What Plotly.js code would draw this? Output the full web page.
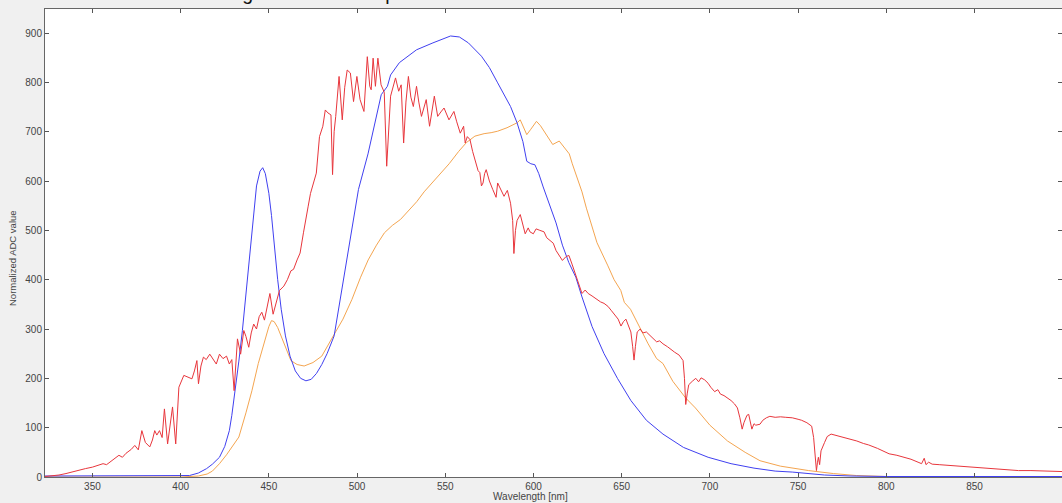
<!DOCTYPE html>
<html>
<head>
<meta charset="utf-8">
<script src="https://cdn.plot.ly/plotly-3.0.1.min.js"></script>
<style>
html,body{margin:0;padding:0;background:#f0f0f0;}
#chart{width:1062px;height:503px;}
</style>
</head>
<body>
<div id="chart"></div>
<script>
// ---- data (wavelength in nm, normalized ADC value) ----
const redWl = [323,327,331,335,338,342,346,350,353,356,358,361,363,365,367,369,372,374,376,378,380,382.5,384,385.3,386.5,388,389.5,390.8,392.6,394,395.4,397.2,399,401.8,404,406.4,407.8,409.2,410.1,411.5,412.9,414.5,416.5,418,420.2,422,424,426,427.6,429,430.3,432.2,434,435.8,437,438.6,440,441.4,443,444.5,446,447.5,449,450.6,452.4,454,456,458.5,460.5,462.5,464,466,467.7,469.6,471,472.3,473.6,475.1,476.9,478.7,480.6,482,483.5,485.2,486.1,487,487.9,489.8,491.6,493,494.4,496.2,498,499.9,501.7,503.9,505.8,507.2,508,509.1,510.4,511.8,513.6,515.4,516.8,519,521.8,523.6,525,526.4,527.7,529.1,530.5,531.9,533.7,535,536.5,539.2,541.1,543.8,545.7,547.5,549.3,552.1,554.9,556.5,558.5,560.4,561.3,562.5,564,565.5,566.8,568.6,569.6,570.5,571.4,572.3,573.2,575,576.9,578.8,579.7,581.5,583.3,585.2,587,588.2,588.9,589.8,590.7,592.5,593.5,595.3,597,598,599.9,601.5,603.6,606,607.5,609.1,611.2,612.8,614.5,616.4,618.5,620.1,622,623.8,625.5,627.5,629.3,631,633.2,636,638,640,642.2,644,646,648,649.6,651,652.4,654,655.2,656.2,657,657.8,658.8,660.5,662,664,666,668,669.8,671.5,673.4,676,678,680,682.6,684.8,685.6,686.3,687.2,688,690,692,693.6,695,697,699,700.5,702.7,704.5,706,708,710,712,714,715.6,717,718.3,719.3,720,721,722,723,723.8,725,726,728.4,730,732,734,737,740,743,746.7,750,752,755,757.7,758.8,759.5,760.4,761,761.5,762.2,763,765,766.5,768.7,772,775,779,783.3,787,790,795,801.6,806,810,814,818,820,821.5,822.5,824,826,830,834,838,843,849,855,860,866,875,882,890,900];
const redVal = [1,2,4,7,10,13,17,20,24,27,25,33,38,44,40,48,56,64,55,94,70,61,75,94,85,94,80,138,67,100,142,67,182,206,202,199,215,236,189,225,243,238,249,240,229,249,240,245,229,238,175,280,249,297,285,263,292,310,300,325,334,318,345,372,330,350,378,387,400,418,421,440,454,495,520,549,575,596,616,690,711,744,738,734,613,700,731,812,724,790,825,819,761,812,765,741,852,792,785,849,792,849,795,780,630,772,809,782,795,677,760,812,770,751,792,760,731,765,711,772,731,740,748,724,741,720,697,711,677,690,684,660,643,621,617,590,596,615,623,600,583,567,596,584,569,581,555,520,453,500,520,532,517,493,505,497,493,503,500,497,485,480,474,459,450,439,447,449,430,412,395,372,379,372,367,360,355,352,346,338,330,320,306,315,320,305,294,265,237,265,294,300,292,294,287,280,274,276,270,264,258,253,247,236,200,147,170,187,194,200,193,201,197,190,182,173,177,168,165,160,155,148,140,120,97,110,115,125,127,110,97,108,105,107,115,120,123,121,122,121,120,117,115,110,103,80,45,13,30,40,25,53,70,82,87,84,82,77,73,68,65,58,47,44,40,36,30,27,38,25,30,26,25,24,23,22,20,19,18,16,13,13,12,11];

const blueWl = [323,350,380,400,405,410,414.7,418,422,425,427.6,429,431,433,435,437,438.6,440,441.5,443,445,446.5,448,450,451.5,453,455,457,459.4,462,465,468,471,474,477,480,483,487,491,495.3,500.8,506.2,513.7,517.2,519,524,528.3,533.7,543,553,558,563.1,570.5,575,579.7,583.5,587,590.7,594,596.2,598.5,600.8,603,605.5,609,612.8,616.4,620,624,627.5,633.2,640,647.6,655.2,664,673.4,685,699,712,725,737,746.7,765,780,800,850,900];
const blueVal = [2,2,2,2,3,8,17,26,40,62,94,125,175,235,297,370,431,490,545,590,620,627,615,575,530,470,400,340,286,245,215,200,195,198,210,228,250,286,370,468,583,655,775,792,815,840,852,866,880,894,892,880,853,830,799,775,751,718,680,640,635,633,615,588,555,515,470,435,405,365,305,250,200,155,115,87,60,40,27,18,12,10,4,2,1,1,1];

const orangeWl = [323,400,410,415,418,422,426,430,433,437,440.4,444,447.8,450,451.5,453,455,457,460,462.5,466,470,475,480,487,492,497.1,502,506.3,511,515.5,520,524.6,529,533.8,538,542.9,547,552.2,557.6,562,566.8,572,576,579.7,585,590.7,592.5,594.3,596.2,598.5,601.7,604,607,610.9,614.6,617,620.3,622,625.6,627.5,630,633,636,642.2,645.7,649.5,651.5,655,660.7,665,669.8,673.4,679,686.3,691.8,700,710,720,728.4,740,756,770,783,800,850,900];
const orangeVal = [0,0,2,6,12,27,45,65,81,130,175,230,276,305,317,315,303,285,260,236,228,225,232,245,289,320,360,405,440,470,495,510,522,540,558,578,598,616,635,660,678,691,696,698,701,708,718,724,708,694,705,721,712,695,674,681,670,655,635,600,578,545,510,475,428,400,378,354,340,300,270,240,230,194,160,140,105,73,50,33,22,13,7,3,1,1,1];

const xTicks = [350,400,450,500,550,600,650,700,750,800,850];
const yTicks = [0,100,200,300,400,500,600,700,800,900];

const titleText = 'Light sources compared';
const xTitle = 'Wavelength [nm]';
const yTitle = 'Normalized ADC value';

// ---- drawing ----
const lineW = 1;
const traces = [
  {x: orangeWl, y: orangeVal, type:'scatter', mode:'lines', line:{color:'#f4a550', width:lineW}, name:'orange'},
  {x: blueWl, y: blueVal, type:'scatter', mode:'lines', line:{color:'#4040f0', width:lineW}, name:'blue'},
  {x: redWl, y: redVal, type:'scatter', mode:'lines', line:{color:'#e8363c', width:lineW}, name:'red'}
];

const tickFont = {family:'Liberation Sans, Arial, sans-serif', size:10, color:'#444'};
const axisCommon = {
  ticks:'inside', ticklen:4, tickwidth:1, tickcolor:'#555',
  showline:true, linecolor:'#666', linewidth:1, mirror:'ticks',
  showgrid:false, zeroline:false, tickfont:tickFont, fixedrange:true
};

const layout = {
  width:1062, height:503,
  paper_bgcolor:'#f0f0f0', plot_bgcolor:'#ffffff',
  margin:{l:45, r:0, t:9, b:26, pad:0},
  showlegend:false,
  xaxis: Object.assign({}, axisCommon, {range:[323.1, 899.6], tickvals:xTicks, ticktext:xTicks.map(String)}),
  yaxis: Object.assign({}, axisCommon, {range:[0, 948.7], tickvals:yTicks, ticktext:yTicks.map(String)}),
  annotations:[
    {text:xTitle, xref:'paper', yref:'paper', x:(530-45)/1017, y:(477-496)/468, xanchor:'center', yanchor:'middle', showarrow:false,
     font:{family:'Liberation Sans, Arial, sans-serif', size:10, color:'#444'}},
    {text:yTitle, xref:'paper', yref:'paper', x:(12-45)/1017, y:(477-258)/468, xanchor:'center', yanchor:'middle', textangle:-90, showarrow:false,
     font:{family:'Liberation Sans, Arial, sans-serif', size:9.5, color:'#444'}},
    {text:titleText, xref:'paper', yref:'paper', x:(225-45)/1017, y:1+(9-6)/468, xanchor:'left', yanchor:'bottom', showarrow:false,
     font:{family:'Liberation Sans, Arial, sans-serif', size:19.5, color:'#111'}}
  ]
};

Plotly.newPlot('chart', traces, layout, {displayModeBar:false, staticPlot:true});
</script>
</body>
</html>
